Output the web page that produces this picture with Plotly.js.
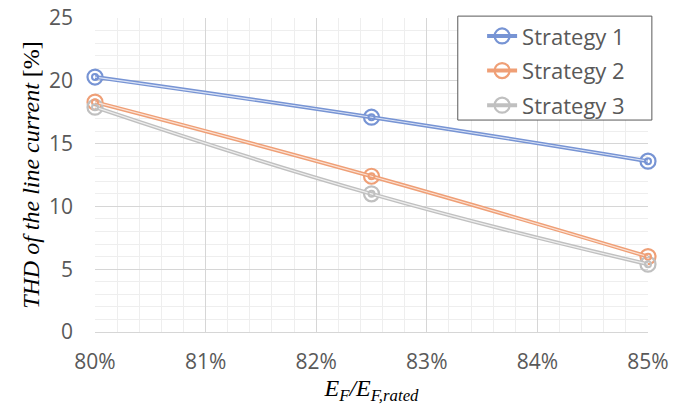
<!DOCTYPE html>
<html>
<head>
<meta charset="utf-8">
<script src="https://cdn.plot.ly/plotly-3.0.1.min.js"></script>
<style>html,body{margin:0;padding:0;background:#fff;}#chart{width:688px;height:410px;}</style>
</head>
<body>
<div id="chart"></div>
<script>
const xValues = [0.80, 0.825, 0.85];
const strategy1 = [20.3, 17.1, 13.6];
const strategy2 = [18.3, 12.4, 6.0];
const strategy3 = [17.9, 11.0, 5.4];
const seriesNames = ['Strategy 1', 'Strategy 2', 'Strategy 3'];
const seriesColors = ['#7794d4', '#ef9f76', '#c0c0c0'];
const innerColors = ['#dbe3f5', '#fbe2d5', '#efefef'];
const allSeries = [strategy1, strategy2, strategy3];

const traces = [];
allSeries.forEach((ys, i) => {
  traces.push({
    x: xValues, y: ys, name: seriesNames[i], legendgroup: 'g' + i, type: 'scatter', mode: 'lines+markers',
    cliponaxis: false,
    line: {color: seriesColors[i], width: 4, shape: 'spline', smoothing: 1.3},
    marker: {symbol: 'circle-open', size: 15, color: seriesColors[i], line: {width: 2.2, color: seriesColors[i]}},
  });
});
allSeries.forEach((ys, i) => {
  traces.push({
    x: xValues, y: ys, legendgroup: 'g' + i, type: 'scatter', mode: 'lines+markers', showlegend: false, hoverinfo: 'skip',
    cliponaxis: false,
    line: {color: innerColors[i], width: 1.2, shape: 'spline', smoothing: 1.3},
    marker: {symbol: 'circle-open', size: 6, color: seriesColors[i], line: {width: 2, color: seriesColors[i]}}
  });
});

const tickFont = {family: 'Open Sans, Liberation Sans, sans-serif', size: 21, color: '#595959'};
const titleFont = {family: 'Liberation Serif, serif', size: 24, color: '#000'};

const layout = {
  width: 688, height: 410,
  margin: {l: 95, r: 40, t: 18, b: 78},
  paper_bgcolor: '#ffffff', plot_bgcolor: '#ffffff',
  showlegend: true,
  legend: {
    x: 0.70, xanchor: 'left', y: 1.009, yanchor: 'top',
    bgcolor: 'rgba(0,0,0,0)', borderwidth: 0,
    font: {family: 'Open Sans, Liberation Sans, sans-serif', size: 22, color: '#595959'},
    itemwidth: 30, tracegroupgap: 3
  },
  shapes: [{
    type: 'rect', xref: 'paper', yref: 'paper', x0: 0.656, x1: 1.007, y0: 0.675, y1: 1.006,
    line: {color: '#595959', width: 1}, fillcolor: '#ffffff', layer: 'above'
  }],
  xaxis: {
    range: [0.80, 0.85], tickformat: '.0%', dtick: 0.01, tick0: 0.80,
    showgrid: true, gridcolor: '#d6d6d6', gridwidth: 1,
    minor: {dtick: 0.002, showgrid: true, gridcolor: '#eeeeee', gridwidth: 1},
    zeroline: false, showline: true, linecolor: '#d6d6d6', linewidth: 1, ticks: '', ticklabelstandoff: 11,
    tickfont: tickFont,
    title: {text: '<i>E<sub>F</sub>/E<sub>F,rated</sub></i>', font: titleFont, standoff: 0}
  },
  yaxis: {
    range: [0, 25], dtick: 5, tick0: 0,
    showgrid: true, gridcolor: '#d6d6d6', gridwidth: 1,
    minor: {dtick: 1, showgrid: true, gridcolor: '#eeeeee', gridwidth: 1},
    zeroline: false, showline: false, ticks: '', ticklabelstandoff: 21,
    tickfont: tickFont,
    title: {text: '<i>THD of the line current</i> [%]', font: titleFont, standoff: 2}
  }
};
Plotly.newPlot('chart', traces, layout, {displayModeBar: false, staticPlot: true});
</script>
</body>
</html>
